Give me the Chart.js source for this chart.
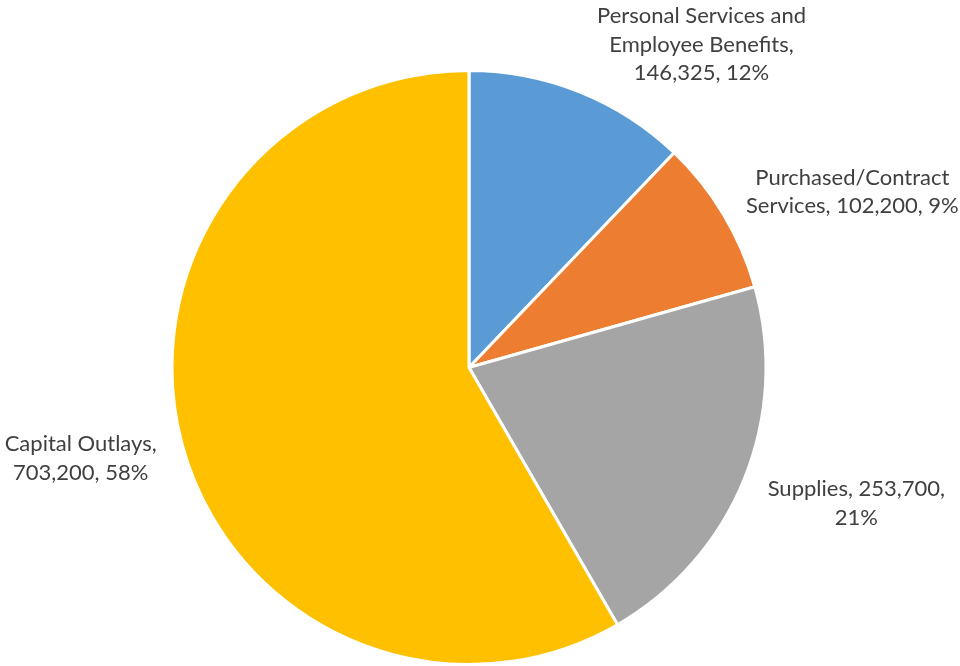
<!DOCTYPE html>
<html>
<head>
<meta charset="utf-8">
<script src="https://cdn.jsdelivr.net/npm/chart.js@4"></script>
<style>
  html, body { margin: 0; padding: 0; background: #fff; }
  #wrap { width: 960px; height: 666px; }
</style>
</head>
<body>
<div id="wrap"><canvas id="chart"></canvas></div>
<script>
const categories = [
  ['Personal Services and', 'Employee Benefits,'],
  ['Purchased/Contract', 'Services,'],
  ['Supplies,'],
  ['Capital Outlays,']
];
const amounts = [146325, 102200, 253700, 703200];
const percents = ['12%', '9%', '21%', '58%'];
const colors = ['#5B9BD5', '#ED7D31', '#A5A5A5', '#FFC000'];

// label text lines for each slice
function labelLines(i) {
  const val = amounts[i].toLocaleString('en-US');
  if (i === 0) return [categories[0][0], categories[0][1], val + ', ' + percents[0]];
  if (i === 1) return [categories[1][0], categories[1][1] + ' ' + val + ', ' + percents[1]];
  if (i === 2) return [categories[2][0] + ' ' + val + ',', percents[2]];
  return [categories[3][0], val + ', ' + percents[3]];
}

// outside labels: angle shift (deg) from the slice middle and distance as a multiple of the radius
const labelPlace = [[13.9, 1.34], [6.4, 1.42], [-2.8, 1.382], [1.8, 1.343]];

const outsideLabels = {
  id: 'outsideLabels',
  afterDatasetsDraw(chart) {
    const ctx = chart.ctx;
    const arcs = chart.getDatasetMeta(0).data;
    ctx.save();
    ctx.font = '22px Lato, "Open Sans", sans-serif';
    ctx.fillStyle = '#404040';
    ctx.textAlign = 'center';
    ctx.textBaseline = 'middle';
    arcs.forEach((arc, i) => {
      const p = arc.getProps(['x', 'y', 'startAngle', 'endAngle', 'outerRadius'], true);
      const mid = (p.startAngle + p.endAngle) / 2 + labelPlace[i][0] * Math.PI / 180;
      const d = p.outerRadius * labelPlace[i][1];
      const cx = p.x + Math.cos(mid) * d;
      const cy = p.y + Math.sin(mid) * d;
      const lines = labelLines(i);
      const lh = 28.5;
      lines.forEach((t, k) => {
        ctx.fillText(t, cx, cy + (k - (lines.length - 1) / 2) * lh);
      });
    });
    ctx.restore();
  }
};

new Chart(document.getElementById('chart'), {
  type: 'pie',
  data: {
    labels: categories.map(c => c.join(' ')),
    datasets: [{
      data: amounts,
      backgroundColor: colors,
      borderColor: '#ffffff',
      borderWidth: 3
    }]
  },
  options: {
    responsive: true,
    maintainAspectRatio: false,
    animation: false,
    layout: { padding: { left: 169, right: 191, top: 69, bottom: -3 } },
    plugins: {
      legend: { display: false },
      tooltip: { enabled: false }
    }
  },
  plugins: [outsideLabels]
});
</script>
</body>
</html>
